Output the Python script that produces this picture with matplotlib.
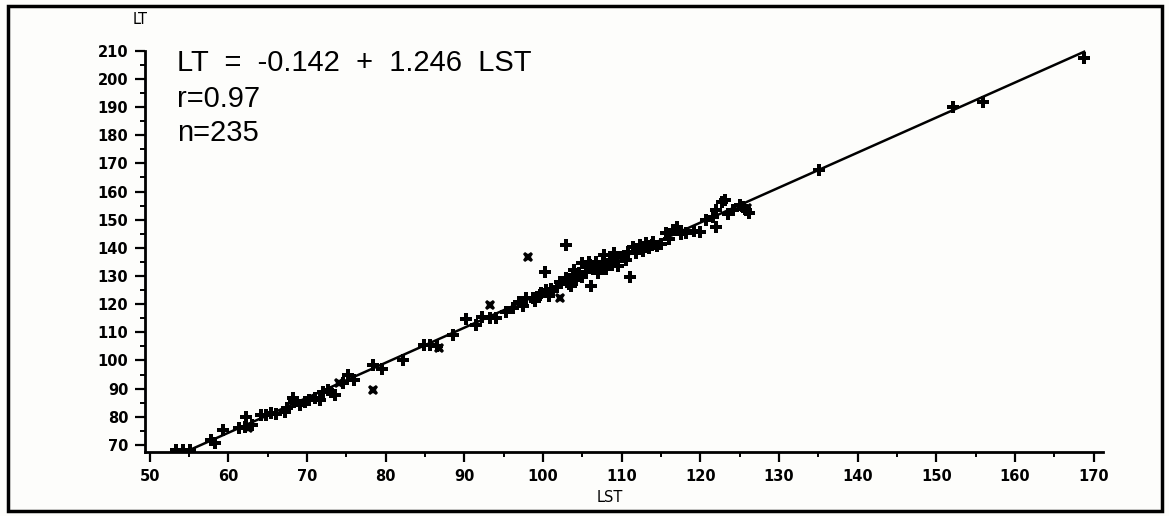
import numpy as np
import matplotlib
matplotlib.use("Agg")
import matplotlib.pyplot as plt
from matplotlib.ticker import MultipleLocator
from matplotlib.patches import Rectangle

# ---- data ----
lst_plus = [53.4, 54.2, 55.1, 57.8, 58.3, 59.3, 61.4, 62.1, 62.3, 63.0, 64.2, 64.8, 65.4, 66.0,
            67.2, 67.4, 68.2, 68.4, 69.1, 69.7, 70.3, 71.0, 71.6, 72.0, 72.7, 73.1, 73.5, 74.6,
            75.2, 76.0, 78.4, 79.5, 82.2, 84.9, 85.6, 86.5, 88.5, 90.2, 91.5, 92.3, 93.2, 94.0,
            95.3, 96.2, 97.0, 97.5, 97.9, 98.7, 99.0, 99.6, 100.2, 100.4, 100.8, 101.3, 101.8,
            102.1, 102.9, 102.9, 103.3, 103.8, 104.2, 104.6, 105.0, 105.0, 105.5, 105.9, 106.1,
            106.3, 106.7, 107.0, 107.3, 107.6, 108.0, 108.5, 108.8, 109.3, 109.6, 110.1, 110.5,
            111.0, 111.4, 111.8, 112.3, 112.7, 113.1, 113.5, 114.0, 114.5, 115.0, 115.6, 116.0,
            116.5, 117.1, 117.5, 118.2, 119.2, 119.9, 120.7, 121.6, 122.0, 122.0, 122.8, 123.1,
            123.5, 124.2, 125.0, 125.4, 125.8, 126.2, 135.1, 152.1, 155.9, 168.8,
            104.0, 106.0, 107.8, 109.0, 110.8, 103.5, 101.0, 99.8, 112.0, 113.8]
lt_plus = [68.3, 68.3, 68.3, 71.8, 70.8, 75.3, 75.9, 76.5, 80.0, 77.0, 80.7, 80.7, 81.3, 81.0,
           81.8, 83.0, 86.6, 85.4, 84.2, 85.4, 86.0, 86.6, 86.0, 88.9, 89.5, 88.9, 87.8, 92.0,
           94.9, 93.0, 98.4, 97.0, 100.2, 105.5, 105.5, 105.0, 109.0, 114.7, 112.5, 115.6, 115.0, 115.0,
           117.3, 118.5, 120.9, 119.5, 122.1, 122.1, 121.0, 123.3, 131.5, 125.0, 123.0, 124.5, 126.0,
           128.0, 129.2, 141.0, 127.0, 130.4, 128.5, 131.0, 134.5, 129.5, 131.5, 135.1, 126.3,
           132.5, 135.1, 131.0, 133.0, 135.1, 132.5, 135.7, 134.0, 136.9, 133.5, 136.9, 135.5,
           129.8, 140.4, 138.0, 141.0, 139.0, 141.6, 140.0, 142.2, 140.5, 141.5, 145.1, 143.0,
           146.3, 147.5, 145.0, 145.1, 146.0, 145.7, 149.9, 151.1, 147.5, 153.4, 156.4, 157.0,
           152.0, 153.5, 155.2, 154.6, 153.4, 152.3, 167.7, 190.1, 191.9, 207.3,
           132.0, 134.0, 137.5, 138.0, 138.5, 126.5, 125.5, 124.0, 139.5, 141.0]
lst_x = [62.5, 74.1, 78.4, 86.8, 93.2, 98.1, 102.1, 126.0]
lt_x = [75.9, 91.9, 89.5, 104.5, 119.7, 136.7, 122.1, 154.0]

x_ticks = list(range(50, 171, 10))
y_ticks = list(range(70, 211, 10))
eq_text = "LT  =  -0.142  +  1.246  LST"
r_text = "r=0.97"
n_text = "n=235"

# ---- figure ----
W, H = 1169, 516
fig = plt.figure(figsize=(W / 100, H / 100), dpi=100)
bg = "#fdfdfb"
fig.patch.set_facecolor(bg)

ax = fig.add_axes([145 / W, 1 - 452 / H, (1103 - 145) / W, (452 - 49) / H])
ax.set_facecolor(bg)
ax.set_xlim(49.4, 171.2)
ax.set_ylim(67.5, 210.6)

for s in ("top", "right"):
    ax.spines[s].set_visible(False)
for s in ("left", "bottom"):
    ax.spines[s].set_linewidth(2.0)
ax.spines["left"].set_bounds(67.5, 210)

# fitted line from the points
all_x = np.array(lst_plus + lst_x)
all_y = np.array(lt_plus + lt_x)
b, a = np.polyfit(all_x, all_y, 1)
xl = np.array([all_x.min(), all_x.max()])
ax.plot(xl, a + b * xl, color="black", lw=1.8, zorder=2)

ax.plot(lst_plus, lt_plus, linestyle="none", marker="P", markersize=9,
        color="black", markeredgewidth=0, zorder=3)
ax.plot(lst_x, lt_x, linestyle="none", marker="X", markersize=7.5,
        color="black", markeredgewidth=0, zorder=3)

ax.set_xticks(x_ticks)
ax.set_yticks(y_ticks)
ax.xaxis.set_minor_locator(MultipleLocator(5))
ax.yaxis.set_minor_locator(MultipleLocator(5))
ax.tick_params(axis="both", which="major", length=7, width=1.6, direction="out",
               labelsize=10.5, pad=5)
ax.tick_params(axis="both", which="minor", length=3.5, width=1.4, direction="out")
for lab in ax.get_xticklabels() + ax.get_yticklabels():
    lab.set_fontweight("bold")
    lab.set_family("DejaVu Sans")

fig.text(610 / W, 1 - 497 / H, "LST", fontsize=10.5, ha="center", va="center",
         family="DejaVu Sans")
fig.text(140 / W, 1 - 20 / H, "LT", fontsize=10.5, ha="center", va="center",
         family="DejaVu Sans")

tf = dict(fontsize=21, family="Liberation Sans", ha="left", va="center",
          transform=fig.transFigure)
fig.text(177 / W, 1 - 63 / H, eq_text, **tf)
fig.text(177 / W, 1 - 99 / H, r_text, **tf)
fig.text(177 / W, 1 - 133 / H, n_text, **tf)

fig.patches.append(Rectangle((8 / W, 1 - 511 / H), (1162 - 8) / W, (511 - 6) / H,
                             transform=fig.transFigure, fill=False,
                             edgecolor="black", linewidth=2.5))

fig.savefig("out.png", dpi=100, facecolor=bg)
